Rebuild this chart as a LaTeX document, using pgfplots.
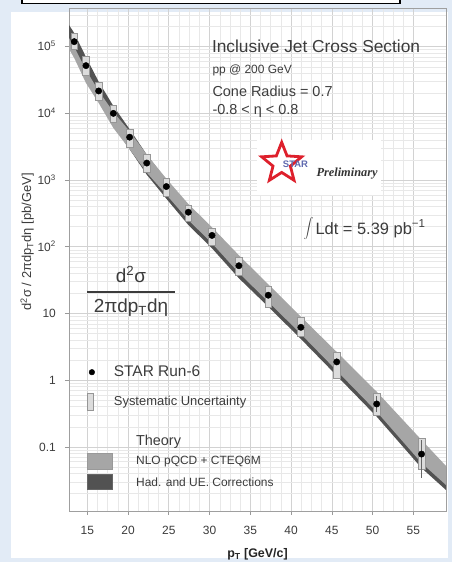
\documentclass[border=0pt]{standalone}
\usepackage{pgfplots}
\pgfplotsset{compat=1.18}
\usetikzlibrary{shapes.geometric}
\usepackage{fontspec}
\setmainfont{Liberation Sans}
\newfontfamily\serifit{Liberation Serif}
\definecolor{bgblue}{RGB}{226,235,246}
\definecolor{txt}{RGB}{60,60,60}
\definecolor{lightband}{RGB}{166,166,166}
\definecolor{darkband}{RGB}{82,82,82}
\definecolor{sysfill}{RGB}{220,220,220}
\definecolor{sysdraw}{RGB}{150,150,150}
\definecolor{majgrid}{RGB}{210,210,210}
\definecolor{mingrid}{RGB}{232,232,232}
\definecolor{starred}{RGB}{222,32,44}
\definecolor{starblue}{RGB}{95,105,175}
\newcommand{\fs}[1]{\fontsize{#1}{#1}\selectfont}

\begin{document}
\begin{tikzpicture}
\path[use as bounding box] (0bp,0bp) rectangle (452bp,562bp);
\fill[bgblue] (0bp,0bp) rectangle (452bp,562bp);
\fill[white] (11bp,4bp) rectangle (448bp,550bp);
\draw[black, line width=1.5bp, fill=white] (22bp,558.5bp) rectangle (400bp,575bp);

\begin{axis}[
  at={(69bp,51bp)}, anchor=south west,
  scale only axis, width=377bp, height=503bp,
  xmin=12.76, xmax=59, ymin=0.01093, ymax=3.804e5,
  ymode=log,
  axis line style={draw=gray!75, line width=0.8bp},
  grid=both,
  major grid style={majgrid, line width=0.6bp},
  minor grid style={mingrid, line width=0.5bp},
  xtick={15,20,...,55}, minor x tick num=3,
  ytick={0.1,1,10,100,1000,10000,100000},
  yticklabels={0.1,1,10,10\textsuperscript{2},10\textsuperscript{3},10\textsuperscript{4},10\textsuperscript{5}},
  minor ytick={0.02,0.03,0.04,0.05,0.06,0.07,0.08,0.09,0.2,0.3,0.4,0.5,0.6,0.7,0.8,0.9,2,3,4,5,6,7,8,9,20,30,40,50,60,70,80,90,200,300,400,500,600,700,800,900,2000,3000,4000,5000,6000,7000,8000,9000,20000,30000,40000,50000,60000,70000,80000,90000,200000,300000},
  tick align=outside, tick pos=left,
  major tick length=4bp, minor tick length=0pt,
  tick style={gray!80, line width=0.6bp},
  /pgf/number format/assume math mode=true,
  ticklabel style={font=\fs{12}, text=txt},
  yticklabel style={anchor=base east, inner sep=0pt, yshift=-4.3bp, xshift=-9bp},
  xticklabel style={anchor=base, inner sep=0pt, yshift=-19.7bp},
  xlabel={p\textsubscript{T} [GeV/c]},
  xlabel style={font=\fs{12.5}\bfseries, text=black!85, at={(axis description cs:0.5,-0.093)}, anchor=base},
  ylabel={d\textsuperscript{2}σ / 2πdp\textsubscript{T}dη [pb/GeV]},
  ylabel style={font=\fs{13}, text=txt, at={(axis description cs:-0.111,0.535)}, anchor=center},
  legend style={at={(axis description cs:0.0337,0.2962)}, anchor=north west,
    draw=none, fill=none, inner sep=0pt, row sep=9.7bp,
    cells={anchor=west}, font=\fs{15.5}, text=txt,
    /tikz/every odd column/.append style={column sep=10bp}},
]
\addlegendimage{legend image code/.code={\path[draw=none,fill=none] (-10bp,-10bp) rectangle (10bp,10bp); \fill[black] (0bp,0bp) circle (2.8bp);}}
\addlegendentry{STAR Run-6}
\addlegendimage{legend image code/.code={\path[draw=none,fill=none] (-10bp,-10bp) rectangle (10bp,10bp); \draw[sysdraw, fill=sysfill, line width=0.6bp] (-4.7bp,-8.5bp) rectangle (1.3bp,8.5bp);}}
\addlegendentry{\fs{13}Systematic Uncertainty}

% Had. and UE. corrected band (upper edge left to right, lower edge right to left)
\addplot[fill=darkband, draw=none, forget plot] coordinates {
 (12.76,2.115e5) (13.4,1.605e5) (14.84,7.009e4) (16.4,2.987e4) (18.2,1.291e4)
 (20.2,5.775e3) (22.3,2.403e3) (24.7,1.014e3) (27.4,423) (30.3,189.3)
 (33.6,72.0) (37.2,26.5) (41.2,8.65) (45.6,2.556) (50.5,0.649) (56.0,0.1225) (59.0,0.04994)
 (59.0,0.02257) (56.0,0.04825) (50.5,0.2835) (45.6,1.167) (41.2,4.145) (37.2,12.64)
 (33.6,33.7) (30.3,94.9) (27.4,212) (24.7,526) (22.3,1.205e3) (20.2,2.895e3)
 (18.2,6.47e3) (16.4,1.534e4) (14.84,3.168e4) (13.4,7.507e4) (12.76,9.897e4)
} -- cycle;
% NLO pQCD + CTEQ6M band
\addplot[fill=lightband, draw=none, forget plot] coordinates {
 (12.76,1.350e5) (13.4,9.897e4) (14.84,4.473e4) (16.4,2.167e4) (18.2,1.049e4)
 (20.2,5.390e3) (22.3,2.403e3) (24.7,1.049e3) (27.4,438) (30.3,196)
 (33.6,74.6) (37.2,27.4) (41.2,8.95) (45.6,2.647) (50.5,0.672) (56.0,0.1268) (59.0,0.0517)
 (59.0,0.02683) (56.0,0.05734) (50.5,0.3369) (45.6,1.387) (41.2,4.93) (37.2,15.02)
 (33.6,40.5) (30.3,112.8) (27.4,252) (24.7,604) (22.3,1.291e3) (20.2,2.895e3)
 (18.2,6.04e3) (16.4,1.432e4) (14.84,2.856e4) (13.4,6.77e4) (12.76,9.24e4)
} -- cycle;

% systematic uncertainty boxes: x left/right, lower, upper
\foreach \xa/\xb/\ylo/\yhi in {
 13.0/13.8/9.15e4/1.596e5, 14.44/15.24/3.77e4/7.10e4, 16.0/16.8/1.553e4/2.89e4,
 17.8/18.6/7.23e3/1.332e4, 19.8/20.6/3.115e3/5.86e3, 21.9/22.7/1.319e3/2.43e3,
 24.3/25.1/566/1069, 27.0/27.8/242/420, 29.9/30.7/105.9/188,
 33.2/34.0/37.2/70, 36.8/37.6/12.56/25.7, 40.8/41.6/4.54/8.67,
 45.2/46.0/1.081/2.65, 50.1/50.9/0.294/0.628, 55.6/56.4/0.0465/0.1356} {
 \edef\temp{\noexpand\addplot[fill=sysfill, draw=sysdraw, line width=0.6bp, forget plot] coordinates {(\xa,\ylo) (\xb,\ylo) (\xb,\yhi) (\xa,\yhi)} -- cycle;}
 \temp
}

% statistical error bars (visible ones)
\addplot[draw=black!60, line width=0.6bp, forget plot] coordinates {(50.5,0.334) (50.5,0.58)};
\addplot[draw=black!60, line width=0.6bp, forget plot] coordinates {(56.0,0.0344) (56.0,0.1265)};

% STAR Run-6 data points
\addplot[only marks, mark=*, mark size=3.2bp, black, forget plot] coordinates {
 (13.4,1.19e5) (14.84,5.2e4) (16.4,2.17e4) (18.2,1.0e4) (20.2,4.4e3)
 (22.3,1.8e3) (24.7,800) (27.4,330) (30.3,148) (33.6,52)
 (37.2,18.8) (41.2,6.2) (45.6,1.88) (50.5,0.44) (56.0,0.078)
};
\end{axis}

\begin{scope}[x=1bp,y=1bp]
\node[anchor=west, font=\fs{14.5}, text=txt] at (132.5,120.3) {Theory};
\draw[gray!80, fill=lightband, line width=0.5bp] (87.7,93) rectangle (112.3,109);
\draw[gray!80!black, fill=darkband, line width=0.5bp] (87.7,73) rectangle (112.3,88);
\node[anchor=west, font=\fs{12}, text=txt] at (132.7,100) {NLO pQCD + CTEQ6M};
\node[anchor=west, font=\fs{12}, text=txt] at (132.7,80) {Had. and UE. Corrections};

\node[anchor=base west, font=\fs{17.4}, text=txt] at (208.5,509.7) {Inclusive Jet Cross Section};
\node[anchor=base west, font=\fs{12}, text=txt] at (209,488) {pp @ 200 GeV};
\node[anchor=base west, font=\fs{14.5}, text=txt] at (209,465.3) {Cone Radius = 0.7};
\node[anchor=base west, font=\fs{14.5}, text=txt] at (209,447) {-0.8 < η < 0.8};

\fill[white] (257,367) rectangle (381,422);
\node[star, star points=5, star point ratio=2.3, draw=starred, line width=2.8bp, minimum size=42bp, inner sep=0pt] at (281.7,398.7) {};
\node[font=\fs{9.5}\bfseries, text=starblue] at (295.5,398) {STAR};
\node[anchor=base west, font=\serifit\fs{12.4}\bfseries\itshape, text=black!80] at (313,385.3) {Preliminary};

\node[font=\fs{11}, text=txt] at (308.5,333) {$\displaystyle\int$};
\node[anchor=base west, font=\fs{16.5}, text=txt] at (312,328) {Ldt = 5.39 pb\textsuperscript{−1}};

\node[anchor=base, font=\fs{19}, text=txt] at (131,280) {d\textsuperscript{2}σ};
\draw[txt, line width=1.6bp] (87,269.8) -- (175,269.8);
\node[anchor=base, font=\fs{19}, text=txt] at (131,250) {2πdp\textsubscript{T}dη};
\end{scope}
\end{tikzpicture}
\end{document}
